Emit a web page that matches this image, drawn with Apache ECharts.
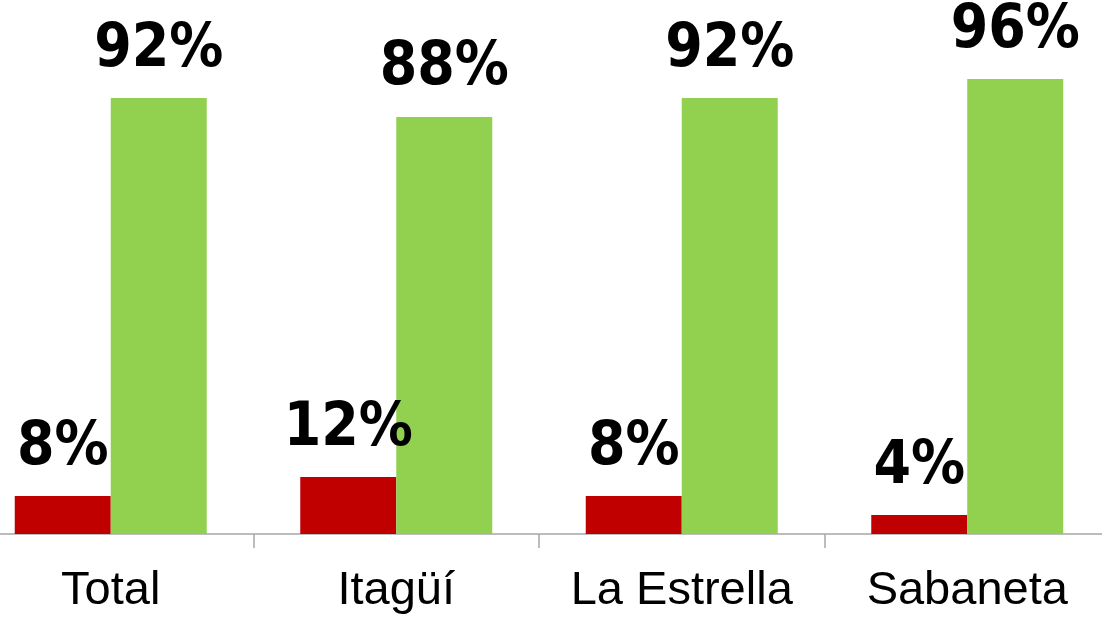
<!DOCTYPE html>
<html>
<head>
<meta charset="utf-8">
<script src="https://cdn.jsdelivr.net/npm/echarts@6/dist/echarts.min.js"></script>
<style>
  html, body { margin: 0; padding: 0; background: #fff; overflow: hidden; }
  /* le graphique déborde un peu à gauche et à droite */
  #chart { width: 1142px; height: 617px; margin-left: -32px; }
</style>
</head>
<body>
<div id="chart"></div>
<script>
// Données
const categories = ["Total", "Itagüí", "La Estrella", "Sabaneta"];
const valeursRouge = [8, 12, 8, 4];
const valeursVert = [92, 88, 92, 96];

const chart = echarts.init(document.getElementById("chart"));

const etiquette = {
    show: true,
    position: "top",
    distance: 18,
    formatter: "{c}%",
    color: "#000",
    fontFamily: "'DejaVu Sans Condensed', 'Liberation Sans Narrow', sans-serif",
    fontWeight: "bold",
    fontSize: 60
};

const option = {
    animation: false,
    backgroundColor: "#fff",
    grid: { left: 0, right: 0, top: 60, bottom: 83, containLabel: false },
    xAxis: {
        type: "category",
        data: categories,
        boundaryGap: true,
        axisLine: { show: true, lineStyle: { color: "#a6a6a6", width: 1.5 } },
        axisTick: {
            show: true,
            inside: false,
            alignWithLabel: false,
            interval: 0,
            length: 14,
            lineStyle: { color: "#a6a6a6", width: 1.5 }
        },
        axisLabel: {
            interval: 0,
            color: "#000",
            fontFamily: "'Liberation Sans', Arial, sans-serif",
            fontSize: 47,
            lineHeight: 47,
            margin: 34
        }
    },
    yAxis: {
        type: "value",
        min: 0,
        max: 100,
        show: false,
        splitLine: { show: false }
    },
    series: [
        {
            type: "bar",
            data: valeursRouge,
            barWidth: 96,
            barGap: "0%",
            itemStyle: { color: "#c00000" },
            label: etiquette
        },
        {
            type: "bar",
            data: valeursVert,
            barWidth: 96,
            barGap: "0%",
            itemStyle: { color: "#92d050" },
            label: etiquette
        }
    ]
};
chart.setOption(option);
</script>
</body>
</html>
